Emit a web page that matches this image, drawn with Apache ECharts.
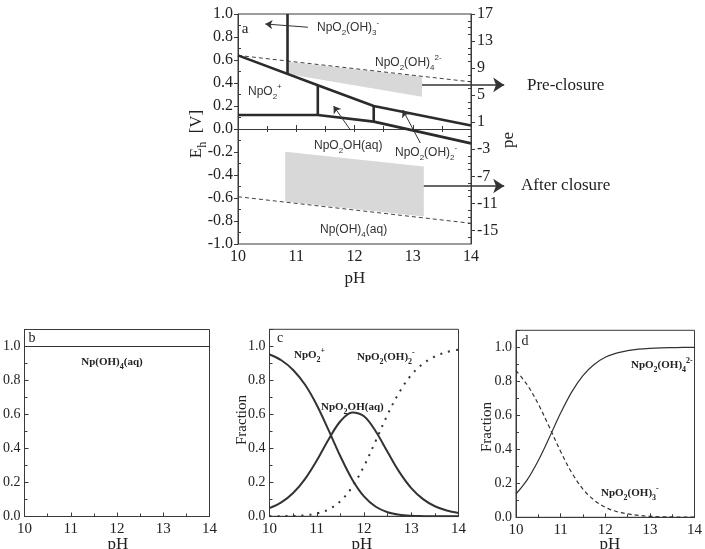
<!DOCTYPE html>
<html>
<head>
<meta charset="utf-8">
<script src="https://cdn.jsdelivr.net/npm/echarts@6/dist/echarts.min.js"></script>
<style>
html, body { margin: 0; padding: 0; background: #fff; }
#chart { width: 705px; height: 549px; }
</style>
</head>
<body>
<div id="chart"></div>
<script>
// panel a: Eh-pH diagram, points are [pH, Eh (V)]
const upperBoundary = [[10, 0.64], [11.37, 0.38], [12.33, 0.20], [14, 0.03]];
const lowerBoundary = [[10, 0.122], [11.37, 0.122], [12.33, 0.064], [14, -0.125]];
const verticalBoundaries = [
  [[10.85, 1.0], [10.85, 0.478]],
  [[11.37, 0.38], [11.37, 0.122]],
  [[12.33, 0.20], [12.33, 0.064]]
];
const waterUpper = [[10, 0.64], [14, 0.41]];
const waterLower = [[10, -0.589], [14, -0.82]];
const preClosure = [[10.85, 0.585], [13.16, 0.455], [13.16, 0.28], [10.85, 0.478]];
const afterClosure = [[10.81, -0.197], [13.19, -0.327], [13.19, -0.76], [10.81, -0.63]];
const bigArrows = [
  [[13.16, 0.383], [14.57, 0.383]],
  [[13.19, -0.496], [14.57, -0.496]]
];
const smallArrows = [
  [[11.2, 0.885], [10.47, 0.913]],
  [[11.93, -0.009], [11.64, 0.2]],
  [[13.13, -0.122], [12.83, 0.165]]
];
const peLabels = [-15, -11, -7, -3, 1, 5, 9, 13, 17];
const peMinor = [-16, -14, -13, -12, -10, -9, -8, -6, -5, -4, -2, -1, 0, 2, 3, 4, 6, 7, 8, 10, 11, 12, 14, 15, 16];
const ehMinor = [-0.9, -0.7, -0.5, -0.3, -0.1, 0.1, 0.3, 0.5, 0.7, 0.9];

// panels b-d: species fraction vs pH
const pH = [10, 10.25, 10.5, 10.75, 11, 11.25, 11.5, 11.75, 12, 12.25, 12.5, 12.75, 13, 13.25, 13.5, 13.75, 14];
const npOH4 = [1, 1, 1, 1, 1, 1, 1, 1, 1, 1, 1, 1, 1, 1, 1, 1, 1];
const npO2 = [0.952, 0.918, 0.861, 0.775, 0.655, 0.507, 0.353, 0.217, 0.117, 0.056, 0.024, 0.009, 0.003, 0.001, 0.0004, 0.0001, 0];
const npO2OH = [0.048, 0.082, 0.137, 0.219, 0.328, 0.452, 0.559, 0.611, 0.588, 0.499, 0.378, 0.260, 0.166, 0.101, 0.059, 0.034, 0.020];
const npO2OH2 = [0.000, 0.001, 0.002, 0.006, 0.017, 0.040, 0.089, 0.172, 0.295, 0.445, 0.599, 0.731, 0.831, 0.898, 0.940, 0.966, 0.980];
const npO2OH4 = [0.137, 0.220, 0.334, 0.471, 0.613, 0.738, 0.834, 0.899, 0.941, 0.966, 0.980, 0.989, 0.994, 0.997, 0.998, 0.999, 0.999];
const npO2OH3 = [0.863, 0.780, 0.666, 0.529, 0.387, 0.262, 0.166, 0.101, 0.059, 0.034, 0.020, 0.011, 0.006, 0.003, 0.002, 0.001, 0.001];

const SERIF = '"Liberation Serif", "DejaVu Serif", serif';
const SANS = '"Liberation Sans", Arial, sans-serif';
const INK = '#2b2b2b';
const AXIS = '#3a3a3a';

const zip = ys => pH.map((x, i) => [x, ys[i]]);

function richSet(size, family, weight, color) {
  const sub = Math.round(size * 0.7);
  return {
    n: { fontSize: size, fontFamily: family, fontWeight: weight, lineHeight: size + 6, fill: color },
    b: { fontSize: sub, fontFamily: family, fontWeight: weight, lineHeight: sub + 1, verticalAlign: 'bottom', fill: color },
    t: { fontSize: sub, fontFamily: family, fontWeight: weight, lineHeight: sub + 1, verticalAlign: 'top', fill: color }
  };
}
const sansRich = richSet(12, SANS, 'normal', '#333');
const boldRich = richSet(11, SERIF, 'bold', '#222');
const serifRich = richSet(17, SERIF, 'normal', '#222');

function label(x, y, text, rich, align, rotate) {
  return {
    type: 'text', x: x, y: y, rotation: rotate ? Math.PI / 2 : 0, silent: true, z: 100,
    style: { text: text, rich: rich, align: align || 'left', verticalAlign: 'middle',
             textAlign: align || 'left', textVerticalAlign: 'middle' }
  };
}
function plain(x, y, text, size, align, rotate) {
  return {
    type: 'text', x: x, y: y, rotation: rotate ? Math.PI / 2 : 0, silent: true, z: 100,
    style: { text: text, font: size + 'px ' + SERIF, fill: '#222', align: align || 'center', verticalAlign: 'middle',
             textAlign: align || 'center', textVerticalAlign: 'middle' }
  };
}

function xAxisBottom(grid, fontSize) {
  return {
    type: 'value', gridIndex: grid, min: 10, max: 14, interval: 1, position: 'bottom',
    axisLine: { show: true, lineStyle: { color: AXIS, width: 1 } },
    axisTick: { show: true, inside: true, length: 4, lineStyle: { color: AXIS } },
    minorTick: { show: true, splitNumber: 2, length: 3, lineStyle: { color: AXIS } },
    axisLabel: { fontFamily: SERIF, fontSize: fontSize, color: '#222', margin: 5 },
    splitLine: { show: false }
  };
}
function fractionAxis(grid) {
  return {
    type: 'value', gridIndex: grid, min: 0, max: 1.1, interval: 0.2,
    axisLine: { show: true, lineStyle: { color: AXIS, width: 1 } },
    axisTick: { show: true, inside: true, length: 4, lineStyle: { color: AXIS } },
    minorTick: { show: true, splitNumber: 2, length: 3, lineStyle: { color: AXIS } },
    axisLabel: { fontFamily: SERIF, fontSize: 14, color: '#222', margin: 4, showMaxLabel: false,
                 formatter: v => v.toFixed(1) },
    splitLine: { show: false }
  };
}
function segment(data, xi, yi, width, type, color) {
  return {
    type: 'line', data: data, xAxisIndex: xi, yAxisIndex: yi, symbol: 'none', silent: true,
    lineStyle: { color: color || INK, width: width, type: type || 'solid' }, z: 3
  };
}
function curve(ys, xi, yi, width, type) {
  return {
    type: 'line', data: zip(ys), xAxisIndex: xi, yAxisIndex: yi, symbol: 'none', silent: true,
    smooth: 0.35,
    lineStyle: { color: '#333', width: width, type: type || 'solid' }
  };
}

const chart = echarts.init(document.getElementById('chart'));

const polygons = [preClosure, afterClosure];

const option = {
  animation: false,
  backgroundColor: '#fff',
  grid: [
    { left: 238, top: 14, width: 233, height: 230, show: true, borderColor: AXIS, borderWidth: 1 },
    { left: 23, top: 329.5, width: 186.5, height: 187, show: true, borderColor: AXIS, borderWidth: 1 },
    { left: 269.5, top: 329.3, width: 189, height: 187, show: true, borderColor: AXIS, borderWidth: 1 },
    { left: 516, top: 330.3, width: 188, height: 187, show: true, borderColor: AXIS, borderWidth: 1 }
  ],
  xAxis: [
    xAxisBottom(0, 16),
    {
      type: 'value', gridIndex: 0, min: 10, max: 14, interval: 0.5, position: 'top',
      axisLine: { show: true, lineStyle: { color: AXIS } },
      axisTick: { show: true, inside: true, length: 3, lineStyle: { color: AXIS } },
      axisLabel: { show: false }, splitLine: { show: false }
    },
    xAxisBottom(1, 15),
    xAxisBottom(2, 15),
    xAxisBottom(3, 15)
  ],
  yAxis: [
    {
      type: 'value', gridIndex: 0, min: -1, max: 1, interval: 0.2, position: 'left',
      axisLine: { show: true, lineStyle: { color: AXIS } },
      axisTick: { show: true, inside: false, length: 4, lineStyle: { color: AXIS } },
      axisLabel: { fontFamily: SERIF, fontSize: 16, color: '#222', margin: 5, formatter: v => v.toFixed(1) },
      splitLine: { show: false }
    },
    {
      type: 'value', gridIndex: 0, min: -1, max: 1, position: 'left',
      axisLine: { show: false },
      axisTick: { show: true, inside: true, length: 3, customValues: ehMinor, lineStyle: { color: AXIS } },
      axisLabel: { show: false }, splitLine: { show: false }
    },
    {
      type: 'value', gridIndex: 0, min: -17, max: 17, position: 'right',
      axisLine: { show: true, lineStyle: { color: AXIS } },
      axisTick: { show: true, inside: false, length: 4, customValues: peLabels, lineStyle: { color: AXIS } },
      axisLabel: { fontFamily: SERIF, fontSize: 16, color: '#222', margin: 6, customValues: peLabels },
      splitLine: { show: false }
    },
    {
      type: 'value', gridIndex: 0, min: -17, max: 17, position: 'right',
      axisLine: { show: false },
      axisTick: { show: true, inside: true, length: 3, customValues: peMinor, lineStyle: { color: AXIS } },
      axisLabel: { show: false }, splitLine: { show: false }
    },
    fractionAxis(1),
    fractionAxis(2),
    fractionAxis(3)
  ],
  series: [
    {
      type: 'custom', xAxisIndex: 0, yAxisIndex: 0, silent: true, z: 1,
      data: polygons.map((p, i) => [p[0][0], p[0][1], i]),
      renderItem: (params, api) => ({
        type: 'polygon',
        shape: { points: polygons[api.value(2)].map(p => api.coord(p)) },
        style: { fill: '#d8d8d8' }
      })
    },
    segment(waterUpper, 0, 0, 1, [4, 3], '#444'),
    segment(waterLower, 0, 0, 1, [4, 3], '#444'),
    segment(upperBoundary, 0, 0, 2.6),
    segment(lowerBoundary, 0, 0, 2.6),
    ...verticalBoundaries.map(v => segment(v, 0, 0, 2.6)),
    {
      type: 'lines', coordinateSystem: 'cartesian2d', xAxisIndex: 0, yAxisIndex: 0, clip: false, silent: true,
      data: bigArrows.map(c => ({ coords: c })),
      symbol: ['none', 'arrow'], symbolSize: 11,
      lineStyle: { color: '#333', width: 1.5, opacity: 1 }, z: 5
    },
    {
      type: 'lines', coordinateSystem: 'cartesian2d', xAxisIndex: 0, yAxisIndex: 0, clip: false, silent: true,
      data: smallArrows.map(c => ({ coords: c })),
      symbol: ['none', 'arrow'], symbolSize: 7,
      lineStyle: { color: '#333', width: 1, opacity: 1 }, z: 5
    },
    // panel b
    curve(npOH4, 2, 4, 1.2),
    // panel c
    curve(npO2, 3, 5, 2),
    curve(npO2OH, 3, 5, 2),
    curve(npO2OH2, 3, 5, 2, [2, 6]),
    // panel d
    curve(npO2OH4, 4, 6, 1.2),
    curve(npO2OH3, 4, 6, 1.2, [4, 3])
  ],
  graphic: [
    // panel a
    plain(245, 29, 'a', 15),
    label(317, 28, '{n|NpO}{b|2}{n|(OH)}{b|3}{t|-}', sansRich),
    label(375, 63, '{n|NpO}{b|2}{n|(OH)}{b|4}{t|2-}', sansRich),
    label(248, 92, '{n|NpO}{b|2}{t|+}', sansRich),
    label(314, 146, '{n|NpO}{b|2}{n|OH(aq)}', sansRich),
    label(395, 153, '{n|NpO}{b|2}{n|(OH)}{b|2}{t|-}', sansRich),
    label(320, 230, '{n|Np(OH)}{b|4}{n|(aq)}', sansRich),
    label(197, 134, '{n|E}{b|h}{n|  [V]}', serifRich, 'center', true),
    plain(509, 140, 'pe', 17, 'center', true),
    plain(355, 279, 'pH', 17),
    plain(527, 86, 'Pre-closure', 17, 'left'),
    plain(521, 186, 'After closure', 17, 'left'),
    // panel b
    plain(32, 338, 'b', 14),
    label(112, 362, '{n|Np(OH)}{b|4}{n|(aq)}', boldRich, 'center'),
    plain(118, 545, 'pH', 17),
    // panel c
    plain(280, 338, 'c', 14),
    label(294, 355, '{n|NpO}{b|2}{t|+}', boldRich),
    label(357, 357, '{n|NpO}{b|2}{n|(OH)}{b|2}{t|-}', boldRich),
    label(321, 407, '{n|NpO}{b|2}{n|OH(aq)}', boldRich),
    plain(242, 420, 'Fraction', 15, 'center', true),
    plain(362, 545, 'pH', 17),
    // panel d
    plain(525, 341, 'd', 14),
    label(631, 365, '{n|NpO}{b|2}{n|(OH)}{b|4}{t|2-}', boldRich),
    label(601, 493, '{n|NpO}{b|2}{n|(OH)}{b|3}{t|-}', boldRich),
    plain(487, 427, 'Fraction', 15, 'center', true),
    plain(610, 545, 'pH', 17)
  ]
};

chart.setOption(option);
</script>
</body>
</html>
